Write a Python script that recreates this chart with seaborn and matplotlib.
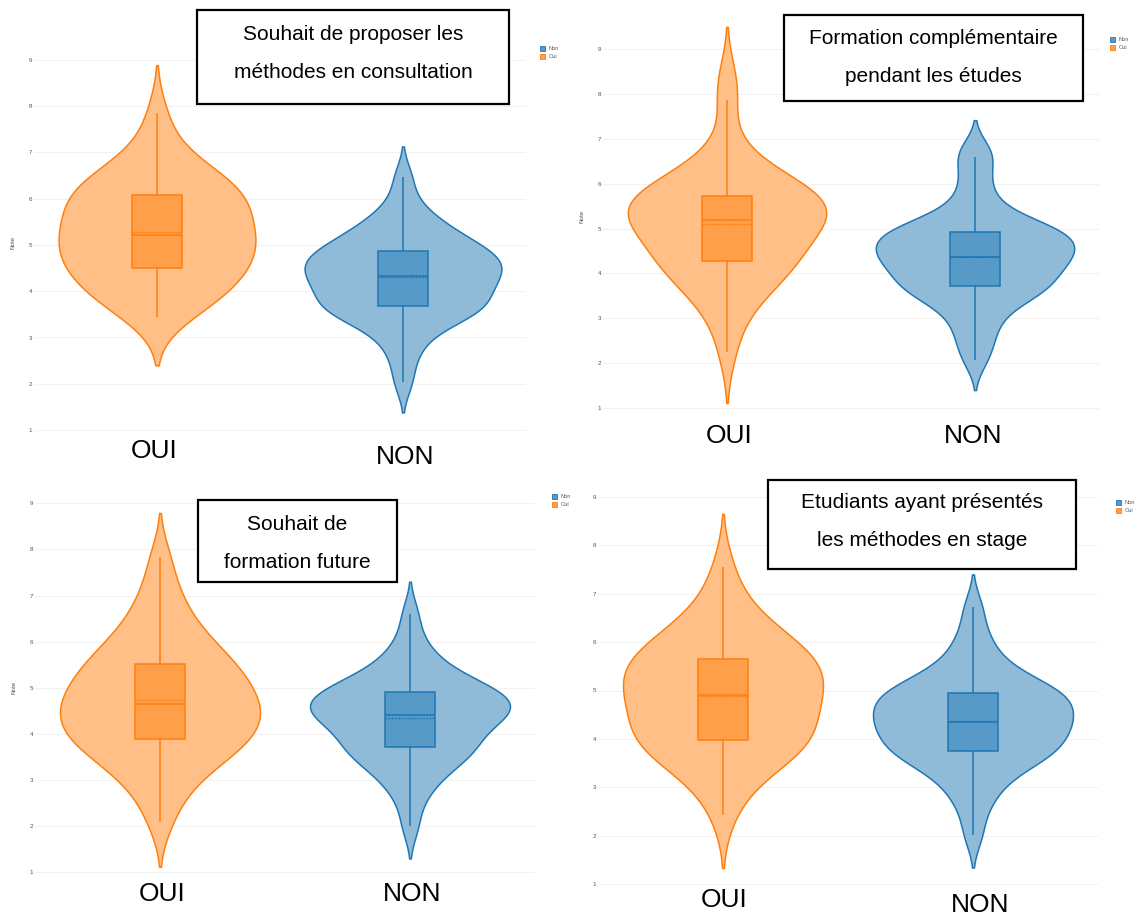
import numpy as np
import pandas as pd
import matplotlib
matplotlib.use("Agg")
import matplotlib.pyplot as plt
from matplotlib.patches import Patch, Rectangle
import seaborn as sns

# ---------------------------------------------------------------- data
groupes = ["Oui", "Non"]
legende = ["Non", "Oui"]

# Souhait de proposer les méthodes en consultation
notes_consult_oui = [3.44, 3.6, 3.72, 3.83, 3.93, 4.03, 4.13, 4.23, 4.33, 4.42,
                     4.50, 4.57, 4.64, 4.71, 4.79, 4.87, 4.95, 5.03, 5.1, 5.16,
                     5.22, 5.3, 5.38, 5.47, 5.56, 5.65, 5.74, 5.83, 5.92, 6.0,
                     6.08, 6.14, 6.2, 6.27, 6.35, 6.44, 6.55, 6.7, 6.9, 7.25, 7.85]
notes_consult_non = [2.04, 2.55, 2.88, 3.12, 3.28, 3.4, 3.48, 3.55, 3.6, 3.64,
                     3.68, 3.75, 3.82, 3.9, 3.97, 4.04, 4.1, 4.17, 4.23, 4.29,
                     4.34, 4.4, 4.45, 4.5, 4.55, 4.6, 4.66, 4.72, 4.77, 4.82,
                     4.87, 4.93, 5.0, 5.08, 5.17, 5.27, 5.38, 5.5, 5.65, 5.95, 6.47]
bande_consult = [0.52, 0.33]

# Formation complémentaire pendant les études
notes_etudes_oui = [2.24, 2.9, 3.25, 3.5, 3.68, 3.82, 3.95, 4.06, 4.15, 4.22,
                    4.28, 4.38, 4.48, 4.58, 4.68, 4.78, 4.88, 4.98, 5.07, 5.14,
                    5.19, 5.25, 5.3, 5.36, 5.42, 5.48, 5.54, 5.6, 5.65, 5.69,
                    5.73, 5.78, 5.85, 5.93, 6.02, 6.13, 6.27, 6.5, 6.9, 7.87, 8.37]
notes_etudes_non = [2.06, 2.4, 2.7, 2.92, 3.18, 3.32, 3.44, 3.54, 3.62, 3.68,
                    3.72, 3.79, 3.86, 3.94, 4.02, 4.1, 4.17, 4.24, 4.3, 4.34,
                    4.37, 4.43, 4.49, 4.55, 4.61, 4.67, 4.73, 4.79, 4.84, 4.88,
                    4.92, 4.97, 5.03, 5.1, 5.19, 5.32, 5.55, 5.85, 6.2, 6.6, 6.76]
bande_etudes = [0.565, 0.33]

# Souhait de formation future
notes_future_oui = [2.08, 2.58, 2.88, 3.1, 3.27, 3.41, 3.53, 3.63, 3.72, 3.81,
                    3.89, 3.97, 4.05, 4.12, 4.2, 4.27, 4.35, 4.42, 4.5, 4.57,
                    4.65, 4.73, 4.8, 4.88, 4.97, 5.05, 5.14, 5.23, 5.32, 5.42,
                    5.51, 5.61, 5.72, 5.84, 5.98, 6.14, 6.33, 6.56, 6.85, 7.23, 7.83]
notes_future_non = [2.0, 2.55, 2.85, 3.05, 3.2, 3.33, 3.44, 3.54, 3.62, 3.67,
                    3.71, 3.8, 3.89, 3.98, 4.07, 4.15, 4.23, 4.3, 4.36, 4.4,
                    4.42, 4.47, 4.52, 4.57, 4.62, 4.67, 4.72, 4.77, 4.82, 4.87,
                    4.91, 4.96, 5.02, 5.09, 5.17, 5.27, 5.4, 5.55, 5.75, 6.05, 6.6]
bande_future = [0.48, 0.35]

# Etudiants ayant présenté les méthodes en stage
notes_stage_oui = [2.43, 2.95, 3.22, 3.42, 3.57, 3.68, 3.77, 3.85, 3.91, 3.95,
                   3.98, 4.08, 4.18, 4.28, 4.38, 4.48, 4.58, 4.68, 4.77, 4.84,
                   4.9, 4.98, 5.06, 5.14, 5.22, 5.3, 5.38, 5.46, 5.53, 5.59,
                   5.65, 5.72, 5.8, 5.89, 5.99, 6.1, 6.23, 6.4, 6.62, 6.95, 7.55]
notes_stage_non = [2.02, 2.55, 2.85, 3.07, 3.24, 3.38, 3.5, 3.59, 3.66, 3.71,
                   3.74, 3.81, 3.88, 3.95, 4.02, 4.09, 4.16, 4.23, 4.29, 4.33,
                   4.35, 4.41, 4.48, 4.55, 4.62, 4.68, 4.74, 4.8, 4.86, 4.9,
                   4.94, 4.99, 5.05, 5.12, 5.21, 5.32, 5.46, 5.64, 5.88, 6.2, 6.72]
bande_stage = [0.55, 0.34]

titre_consult = ["Souhait de proposer les", "méthodes en consultation"]
titre_etudes = ["Formation complémentaire", "pendant les études"]
titre_future = ["Souhait de", "formation future"]
titre_stage = ["Etudiants ayant présentés", "les méthodes en stage"]

etiquettes = ["OUI", "NON"]
graduations = [1, 2, 3, 4, 5, 6, 7, 8, 9]
titre_axe = "Note"

# ---------------------------------------------------------------- style
sns.set_theme(style="white")
plt.rcParams["font.family"] = ["Liberation Sans", "DejaVu Sans"]

ORANGE, ORANGE_VIOLON, ORANGE_BOITE = "#ff7f0e", "#ffbf86", "#ff9f4a"
BLEU, BLEU_VIOLON, BLEU_BOITE = "#1f77b4", "#8fbbd9", "#5799c7"
GRIS = "#555555"
GRILLE = "#f2f2f2"

W, H = 1142, 917
fig = plt.figure(figsize=(W / 100, H / 100), dpi=100)


def rect_axes(x0, x1, y9, y1, lo, hi):
    unit = (y1 - y9) / 8
    top = y9 - (hi - 9) * unit
    bottom = y1 + (1 - lo) * unit
    return [x0 / W, 1 - bottom / H, (x1 - x0) / W, (bottom - top) / H]


def panneau(ax, notes_oui, notes_non, bandes, ylim, ylabel=True):
    series = [("Oui", notes_oui, bandes[0], ORANGE, ORANGE_VIOLON, ORANGE_BOITE),
              ("Non", notes_non, bandes[1], BLEU, BLEU_VIOLON, BLEU_BOITE)]
    for grp, notes, bw, c_ligne, c_violon, c_boite in series:
        df = pd.DataFrame({"groupe": grp, "note": notes})
        ecart = np.std(notes, ddof=1)
        sns.violinplot(data=df, x="groupe", y="note", order=groupes, ax=ax,
                       color=c_violon, linecolor=c_ligne, linewidth=1.1,
                       saturation=1, inner=None, density_norm="width",
                       width=0.8, cut=2, bw_method=bw / ecart, gridsize=300)
        sns.boxplot(data=df, x="groupe", y="note", order=groupes, ax=ax,
                    color=c_boite, linecolor=c_ligne, linewidth=1.1,
                    saturation=1, width=0.2, showfliers=False,
                    showcaps=False, whis=1.5)
        pos = groupes.index(grp)
        ax.hlines(np.mean(notes), pos - 0.1, pos + 0.1, colors=c_ligne,
                  linestyles=(0, (1.5, 1)), lw=0.9, zorder=5)
    ax.set_xlim(-0.5, 1.5)
    ax.set_ylim(*ylim)
    ax.set_yticks(graduations)
    ax.yaxis.grid(True, color=GRILLE, lw=0.8)
    ax.xaxis.grid(False)
    ax.set_axisbelow(True)
    ax.tick_params(axis="y", labelsize=4.5, colors=GRIS, length=0, pad=1.5)
    ax.tick_params(axis="x", length=0, labelbottom=False)
    ax.set_xlabel("")
    if ylabel:
        ax.set_ylabel(titre_axe, fontsize=4.5, color=GRIS, labelpad=9)
    else:
        ax.set_ylabel("")
    sns.despine(ax=ax, left=True, bottom=True)
    ax.patch.set_alpha(0)


def cadre_titre(x0, y0, x1, y1, lignes, ys):
    fig.patches.append(Rectangle((x0 / W, 1 - y1 / H), (x1 - x0) / W,
                                 (y1 - y0) / H, transform=fig.transFigure,
                                 facecolor="white", edgecolor="black",
                                 lw=1.6, zorder=3))
    for txt, y in zip(lignes, ys):
        fig.text((x0 + x1) / 2 / W, 1 - y / H, txt, ha="center", va="center",
                 fontsize=15, color="black", zorder=4)


def etiquettes_groupes(positions):
    for txt, (x, y) in zip(etiquettes, positions):
        fig.text(x / W, 1 - y / H, txt, ha="center", va="center",
                 fontsize=19, color="black", zorder=4)


def legende_panneau(x, y):
    poignees = [Patch(facecolor=BLEU_BOITE, edgecolor=BLEU, lw=0.6),
                Patch(facecolor=ORANGE_BOITE, edgecolor=ORANGE, lw=0.6)]
    fig.legend(poignees, legende, loc="upper left",
               bbox_to_anchor=(x / W, 1 - y / H), frameon=False,
               fontsize=4, handlelength=0.9, handleheight=0.9,
               handletextpad=0.6, labelspacing=0.5, labelcolor=GRIS,
               borderaxespad=0, borderpad=0)


# ---------------------------------------------------------------- panels
ax1 = fig.add_axes(rect_axes(34, 526, 60, 430, 0.9, 9.2))
panneau(ax1, notes_consult_oui, notes_consult_non, bande_consult, (0.9, 9.2))
cadre_titre(197, 10, 509, 104, titre_consult, (34, 72))
etiquettes_groupes([(154, 451), (405, 457)])
legende_panneau(540, 46)

ax2 = fig.add_axes(rect_axes(603, 1099, 49.3, 408, 0.9, 9.65))
panneau(ax2, notes_etudes_oui, notes_etudes_non, bande_etudes, (0.9, 9.65))
cadre_titre(784, 15, 1083, 101, titre_etudes, (38, 76))
etiquettes_groupes([(729, 436), (973, 436)])
legende_panneau(1110, 37)

ax3 = fig.add_axes(rect_axes(35, 535, 503.3, 872.3, 0.9, 9.1))
panneau(ax3, notes_future_oui, notes_future_non, bande_future, (0.9, 9.1))
cadre_titre(198, 500, 397, 582, titre_future, (524, 562))
etiquettes_groupes([(162, 894), (412, 894)])
legende_panneau(552, 494)

ax4 = fig.add_axes(rect_axes(598, 1098, 497, 884, 0.9, 9.1))
panneau(ax4, notes_stage_oui, notes_stage_non, bande_stage, (0.9, 9.1),
        ylabel=False)
cadre_titre(768, 480, 1076, 569, titre_stage, (503, 541))
etiquettes_groupes([(724, 900), (980, 905)])
legende_panneau(1116, 500)

fig.savefig("out.png", dpi=100)
